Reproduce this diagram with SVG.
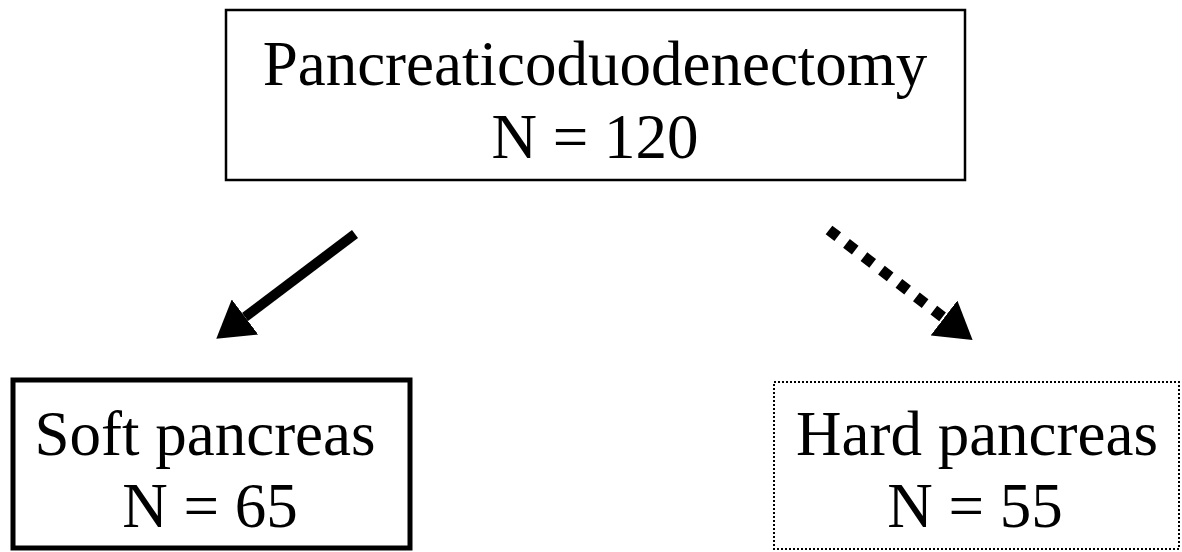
<svg xmlns="http://www.w3.org/2000/svg" width="1182" height="552" viewBox="0 0 1182 552">
<style>
text{font-family:"Liberation Serif","Times New Roman",serif;font-size:63px;fill:#000;text-anchor:middle}
.box{fill:#fff;stroke:#000}
</style>
<defs>
<marker id="head" markerUnits="userSpaceOnUse" markerWidth="36" markerHeight="44" refX="0" refY="22" orient="auto" viewBox="0 0 36 44">
<path d="M0,0 L36,22 L0,44 z" fill="#000"/>
</marker>
</defs>
<rect width="1182" height="552" fill="#fff"/>
<g id="top">
<rect class="box" x="226" y="10" width="739" height="170" stroke-width="2.5"/>
<text x="595" y="85">Pancreaticoduodenectomy</text>
<text x="595" y="158">N = 120</text>
</g>
<g id="soft">
<rect class="box" x="13" y="380" width="397" height="168" stroke-width="5"/>
<text x="205" y="455">Soft pancreas</text>
<text x="210" y="527">N = 65</text>
</g>
<g id="hard">
<rect class="box" x="774" y="382" width="405" height="167" stroke-width="2" stroke-dasharray="2 2"/>
<text x="977" y="455">Hard pancreas</text>
<text x="975" y="527">N = 55</text>
</g>
<g id="connectors">
<line x1="355" y1="234" x2="245" y2="317" stroke="#000" stroke-width="10" marker-end="url(#head)"/>
<line x1="829" y1="230" x2="944" y2="318" stroke="#000" stroke-width="11" stroke-dasharray="11 11" marker-end="url(#head)"/>
</g>
</svg>
